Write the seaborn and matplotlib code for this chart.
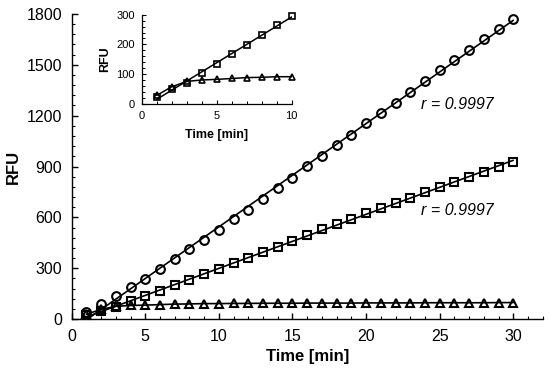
import numpy as np
import pandas as pd
import matplotlib
matplotlib.use("Agg")
import matplotlib.pyplot as plt
import seaborn as sns
from matplotlib.ticker import MultipleLocator

time_min = list(range(1, 31))
circle_rfu = [41, 88, 136, 187, 238, 295, 352, 411, 466, 525, 588, 643, 708, 771, 834,
              903, 962, 1027, 1086, 1155, 1214, 1277, 1342, 1406, 1470, 1529, 1588, 1651, 1710, 1769]
square_rfu = [23, 48, 71, 104, 133, 166, 198, 231, 265, 296, 329, 362, 394, 427, 462,
              496, 529, 559, 590, 623, 653, 686, 716, 747, 777, 807, 840, 869, 899, 928]
triangle_rfu = [28, 57, 75, 80, 82, 85, 88, 89, 91, 91, 92, 92, 93, 93, 93,
                94, 94, 94, 94, 95, 95, 95, 95, 96, 96, 96, 96, 96, 97, 97]
r_labels = ["r = 0.9997", "r = 0.9997"]

df = pd.DataFrame({"t": time_min, "circ": circle_rfu, "sq": square_rfu, "tri": triangle_rfu})
dfi = df[df["t"] <= 10]

sns.set_style("ticks")
plt.rcParams["font.family"] = ["Liberation Sans", "DejaVu Sans"]
plt.rcParams["text.color"] = "black"
plt.rcParams["axes.labelcolor"] = "black"
plt.rcParams["xtick.color"] = "black"
plt.rcParams["ytick.color"] = "black"

fig = plt.figure(figsize=(5.5, 3.77), dpi=100)
ax = fig.add_axes([0.1304, 0.1538, 0.8563, 0.8091])

lw = 1.2
mk = dict(markerfacecolor="none", markeredgecolor="black", markeredgewidth=1.5,
          linestyle="none", clip_on=False)
# fit lines
sns.regplot(data=df, x="t", y="circ", ax=ax, scatter=False, ci=None, truncate=True,
            line_kws=dict(color="black", lw=lw))
sns.regplot(data=df, x="t", y="sq", ax=ax, scatter=False, ci=None, truncate=True,
            line_kws=dict(color="black", lw=lw))
sns.lineplot(data=df, x="t", y="tri", ax=ax, color="black", lw=lw)
# markers
ax.plot(df["t"], df["circ"], marker="o", markersize=6.3, **mk)
ax.plot(df["t"], df["sq"], marker="s", markersize=5.6, **mk)
ax.plot(df["t"], df["tri"], marker="^", markersize=6.2, **mk)

ax.set_xlim(0, 32)
ax.set_ylim(0, 1800)
ax.xaxis.set_major_locator(MultipleLocator(5))
ax.xaxis.set_minor_locator(MultipleLocator(1))
ax.yaxis.set_major_locator(MultipleLocator(300))
ax.yaxis.set_minor_locator(MultipleLocator(60))
for s in ["top", "right"]:
    ax.spines[s].set_visible(False)
for s in ["left", "bottom"]:
    ax.spines[s].set_linewidth(1.0)
    ax.spines[s].set_color("black")
ax.tick_params(which="both", bottom=True, left=True, top=False, right=False)
ax.tick_params(which="major", direction="in", length=4, width=1.0, labelsize=11.5, pad=7, colors="black")
ax.tick_params(which="minor", direction="in", length=2.5, width=0.8, colors="black")
ax.set_xlabel("Time [min]", fontsize=12, fontweight="bold", labelpad=4)
ax.set_ylabel("RFU", fontsize=12, fontweight="bold", labelpad=4)

ax.text(23.7, 1263, r_labels[0], fontsize=11.5, style="italic", ha="left", va="center")
ax.text(23.7, 640, r_labels[1], fontsize=11.5, style="italic", ha="left", va="center")

# inset
axi = fig.add_axes([0.2576, 0.7249, 0.2727, 0.2361])
sns.regplot(data=dfi, x="t", y="sq", ax=axi, scatter=False, ci=None, truncate=True,
            line_kws=dict(color="black", lw=1.1))
sns.lineplot(data=dfi, x="t", y="tri", ax=axi, color="black", lw=1.1)
mki = dict(markerfacecolor="none", markeredgecolor="black", markeredgewidth=1.2,
           linestyle="none", clip_on=False)
axi.plot(dfi["t"], dfi["sq"], marker="s", markersize=4.6, **mki)
axi.plot(dfi["t"], dfi["tri"], marker="^", markersize=5.0, **mki)
axi.set_xlim(0, 10)
axi.set_ylim(0, 300)
axi.xaxis.set_major_locator(MultipleLocator(5))
axi.xaxis.set_minor_locator(MultipleLocator(1))
axi.yaxis.set_major_locator(MultipleLocator(100))
axi.yaxis.set_minor_locator(MultipleLocator(20))
for s in ["top", "right"]:
    axi.spines[s].set_visible(False)
for s in ["left", "bottom"]:
    axi.spines[s].set_linewidth(0.9)
    axi.spines[s].set_color("black")
axi.patch.set_alpha(0)
axi.tick_params(which="both", bottom=True, left=True, top=False, right=False)
axi.tick_params(which="major", direction="in", length=3, width=0.8, labelsize=8, pad=5, colors="black")
axi.tick_params(which="minor", direction="in", length=2, width=0.7, colors="black")
axi.set_xlabel("Time [min]", fontsize=9, fontweight="bold", labelpad=6)
axi.set_ylabel("RFU", fontsize=9, fontweight="bold", labelpad=4)

fig.savefig("out.png", dpi=100)
